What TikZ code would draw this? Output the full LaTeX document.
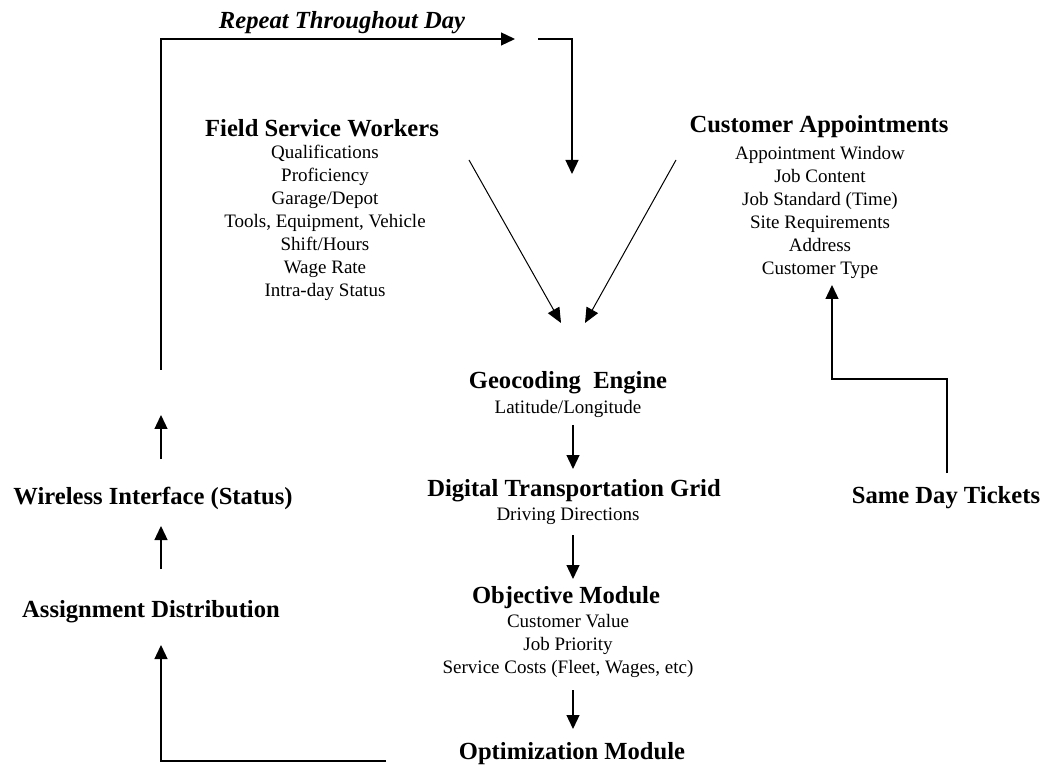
\documentclass[tikz,border=0pt]{standalone}
\usepackage{fontspec}
\setmainfont{Liberation Serif}
\usetikzlibrary{arrows.meta}
\tikzset{
  head/.style={font=\fontsize{24.6}{28}\selectfont\bfseries, inner sep=0pt, anchor=center},
  sub/.style={font=\fontsize{19}{23}\selectfont, inner sep=0pt, anchor=center, align=center},
  conn/.style={line width=1.3pt, draw=black},
  arr/.style={conn, -{Triangle[width=13pt,length=14pt]}},
  diag/.style={line width=1pt, draw=black, -{Triangle[width=13pt,length=15pt]}}
}
\begin{document}
\begin{tikzpicture}[x=1pt,y=-1pt]
\useasboundingbox (0,0) rectangle (1045,767);
% texts
\node[head, font=\fontsize{24.6}{28}\selectfont\bfseries\itshape] (repeat) at (342,23) {Repeat Throughout Day};
\node[head] (fsw) at (322,128) {Field Service Workers};
\node[sub] (fswl) at (325,223) {Qualifications\\Proficiency\\Garage/Depot\\Tools, Equipment, Vehicle\\Shift/Hours\\Wage Rate\\Intra-day Status};
\node[head] (ca) at (819,127) {Customer Appointments};
\node[sub] (cal) at (820,212) {Appointment Window\\Job Content\\Job Standard (Time)\\Site Requirements\\Address\\Customer Type};
\node[head] (geo) at (568,383) {Geocoding\ \ Engine};
\node[sub] (lat) at (568,409) {Latitude/Longitude};
\node[head] (dig) at (574,491) {Digital Transportation Grid};
\node[sub] (drv) at (568,516) {Driving Directions};
\node[head] (obj) at (566,598) {Objective Module};
\node[sub] (objl) at (568,646) {Customer Value\\Job Priority\\Service Costs (Fleet, Wages, etc)};
\node[head] (opt) at (572,754) {Optimization Module};
\node[head] (wir) at (153,498) {Wireless Interface (Status)};
\node[head] (asg) at (151,612) {Assignment Distribution};
\node[head] (sdt) at (946,498) {Same Day Tickets};
% connector end points
\coordinate (loopS) at (161,370);
\coordinate (loopC) at (161,39);
\coordinate (loopE) at (515,39);
\coordinate (inS) at (538,39);
\coordinate (inC) at (572,39);
\coordinate (inE) at (572,174);
\coordinate (fswS) at (469,160);
\coordinate (fswE) at (561,323);
\coordinate (caS) at (676,160);
\coordinate (caE) at (585,323);
\coordinate (geoS) at (573,425);
\coordinate (geoE) at (573,469);
\coordinate (digS) at (573,535);
\coordinate (digE) at (573,579);
\coordinate (objS) at (573,690);
\coordinate (objE) at (573,729);
\coordinate (optS) at (386,761);
\coordinate (optC) at (161,761);
\coordinate (optE) at (161,645);
\coordinate (asgS) at (161,569);
\coordinate (asgE) at (161,526);
\coordinate (wirS) at (161,459);
\coordinate (wirE) at (161,415);
\coordinate (sdtS) at (947,473);
\coordinate (sdtC1) at (947,379);
\coordinate (sdtC2) at (832,379);
\coordinate (sdtE) at (832,285);
% connectors
\draw[arr] (loopS) -- (loopC) -- (loopE);
\draw[arr] (inS) -- (inC) -- (inE);
\draw[diag] (fswS) -- (fswE);
\draw[diag] (caS) -- (caE);
\draw[arr] (geoS) -- (geoE);
\draw[arr] (digS) -- (digE);
\draw[arr] (objS) -- (objE);
\draw[arr] (optS) -- (optC) -- (optE);
\draw[arr] (asgS) -- (asgE);
\draw[arr] (wirS) -- (wirE);
\draw[arr] (sdtS) -- (sdtC1) -- (sdtC2) -- (sdtE);
\end{tikzpicture}
\end{document}
